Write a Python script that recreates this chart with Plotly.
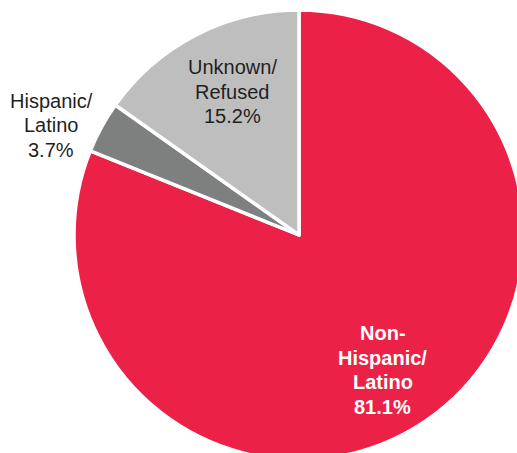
import plotly.graph_objects as go

# Ethnicity breakdown (percent), listed clockwise from 12 o'clock
categories = ["Non-Hispanic/Latino", "Hispanic/Latino", "Unknown/Refused"]
label_lines = [["Non-", "Hispanic/", "Latino"], ["Hispanic/", "Latino"], ["Unknown/", "Refused"]]
values = [81.1, 3.7, 15.2]
colors = ["#EC2147", "#7E807F", "#BFBEBF"]

W, H = 524, 460
ML, MT = 74, 10
SIZE = 450  # square pie domain in pixels


def to_paper(px, py):
    return (px - ML) / SIZE, 1 - (py - MT) / SIZE


fig = go.Figure(
    go.Pie(
        labels=categories,
        values=values,
        sort=False,
        direction="clockwise",
        rotation=0,
        marker=dict(colors=colors, line=dict(color="white", width=3.5)),
        textinfo="none",
        hoverinfo="label+percent",
        showlegend=False,
    )
)

# label anchors: centre x and first-line baseline y (pixels), line step, style
label_pos = [(382.5, 340), (51, 108), (232.5, 74)]
line_step = 24.7
FONT = "Liberation Sans, Arial, Helvetica, sans-serif"
label_style = [
    dict(color="white", bold=True),
    dict(color="#1f1f1f", bold=False),
    dict(color="#1f1f1f", bold=False),
]
FS = 20

annotations = []
for lines, v, (px, py0), st in zip(label_lines, values, label_pos, label_style):
    all_lines = lines + [f"{v:.1f}%"]
    for i, ln in enumerate(all_lines):
        baseline = py0 + i * line_step
        x, y = to_paper(px, baseline - 0.36 * FS)
        txt = f"<b>{ln}</b>" if st["bold"] else ln
        annotations.append(
            dict(x=x, y=y, xref="paper", yref="paper", text=txt, showarrow=False,
                 font=dict(family=FONT, size=FS, color=st["color"]),
                 align="center", xanchor="center", yanchor="middle")
        )

fig.update_layout(
    width=W,
    height=H,
    autosize=False,
    margin=dict(l=ML, r=W - ML - SIZE, t=MT, b=H - MT - SIZE, pad=0),
    paper_bgcolor="white",
    plot_bgcolor="white",
    annotations=annotations,
)

fig.write_html(
    "out.html",
    config={"displayModeBar": False},
    post_script="document.documentElement.style.overflow='hidden';document.body.style.overflow='hidden';document.body.style.margin='0';",
)
